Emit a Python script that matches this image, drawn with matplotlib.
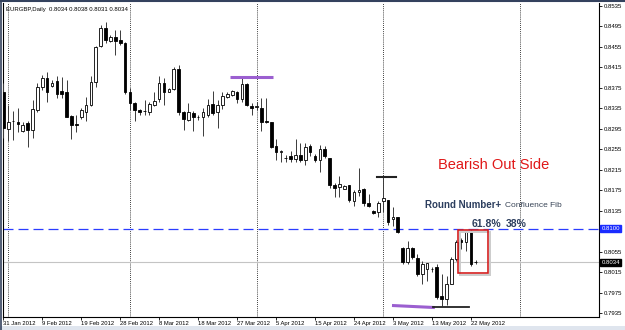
import matplotlib.pyplot as plt
from matplotlib.patches import Rectangle

# EURGBP daily bars, 31 Jan 2012 .. 23 May 2012
opens = [0.8366, 0.8295, 0.8311, 0.8309, 0.8291, 0.8307, 0.8293, 0.8332, 0.8377, 0.8395,
         0.8379, 0.8389, 0.8368, 0.8366, 0.8321, 0.8305, 0.8319, 0.8328, 0.8342, 0.8387,
         0.8457, 0.8492, 0.8467, 0.8475, 0.8469, 0.8463, 0.8366, 0.8346, 0.8332, 0.8329,
         0.8327, 0.8342, 0.8354, 0.8385, 0.8366, 0.8373, 0.8412, 0.8327, 0.8313, 0.8325,
         0.8319, 0.8319, 0.8323, 0.8344, 0.8327, 0.8342, 0.8358, 0.8362, 0.8366, 0.8354,
         0.8383, 0.8340, 0.8338, 0.8336, 0.8311, 0.8309, 0.8262, 0.8250, 0.8239, 0.8241,
         0.8237, 0.8243, 0.8235, 0.8262, 0.8241, 0.8235, 0.8256, 0.8239, 0.8186, 0.8182,
         0.8178, 0.8186, 0.8155, 0.8171, 0.8177, 0.8151, 0.8134, 0.8132, 0.8155, 0.8157,
         0.8118, 0.8122, 0.8062, 0.8035, 0.8062, 0.8042, 0.8011, 0.8021, 0.8021, 0.8025,
         0.7968, 0.7962, 0.7992, 0.8041, 0.8077, 0.8074, 0.8093, 0.8034]
highs = [0.8385, 0.8342, 0.8329, 0.8336, 0.8309, 0.8311, 0.8352, 0.8385, 0.8401, 0.8406,
         0.8391, 0.8399, 0.8397, 0.8391, 0.8323, 0.8323, 0.8336, 0.8358, 0.8399, 0.8457,
         0.8498, 0.8504, 0.8479, 0.8488, 0.8488, 0.8465, 0.8375, 0.8348, 0.8334, 0.8352,
         0.8348, 0.8366, 0.8399, 0.8395, 0.8375, 0.8416, 0.8420, 0.8329, 0.8346, 0.8329,
         0.8323, 0.8336, 0.8354, 0.8368, 0.8352, 0.8366, 0.8366, 0.8371, 0.8368, 0.8395,
         0.8385, 0.8346, 0.8348, 0.8356, 0.8356, 0.8309, 0.8276, 0.8254, 0.8243, 0.8252,
         0.8276, 0.8268, 0.8268, 0.8266, 0.8245, 0.8264, 0.8262, 0.8239, 0.8190, 0.8202,
         0.8186, 0.8186, 0.8175, 0.8219, 0.8180, 0.8167, 0.8136, 0.8155, 0.8200, 0.8157,
         0.8142, 0.8122, 0.8064, 0.8076, 0.8064, 0.8050, 0.8037, 0.8031, 0.8025, 0.8031,
         0.8011, 0.8007, 0.8044, 0.8077, 0.8081, 0.8095, 0.8097, 0.8038]
lows = [0.8278, 0.8272, 0.8274, 0.8288, 0.8288, 0.8260, 0.8278, 0.8327, 0.8371, 0.8348,
        0.8377, 0.8356, 0.8356, 0.8318, 0.8276, 0.8288, 0.8315, 0.8311, 0.8340, 0.8377,
        0.8455, 0.8463, 0.8465, 0.8440, 0.8459, 0.8364, 0.8332, 0.8311, 0.8323, 0.8323,
        0.8323, 0.8340, 0.8348, 0.8342, 0.8366, 0.8371, 0.8323, 0.8293, 0.8311, 0.8291,
        0.8313, 0.8282, 0.8319, 0.8323, 0.8297, 0.8334, 0.8356, 0.8360, 0.8346, 0.8348,
        0.8340, 0.8323, 0.8332, 0.8291, 0.8307, 0.8258, 0.8235, 0.8231, 0.8231, 0.8231,
        0.8231, 0.8231, 0.8225, 0.8241, 0.8231, 0.8210, 0.8239, 0.8180, 0.8161, 0.8161,
        0.8177, 0.8153, 0.8144, 0.8163, 0.8144, 0.8142, 0.8128, 0.8122, 0.8132, 0.8108,
        0.8105, 0.8091, 0.8031, 0.8031, 0.8040, 0.8007, 0.7992, 0.7997, 0.8015, 0.7962,
        0.7949, 0.7951, 0.7992, 0.8037, 0.8060, 0.8056, 0.8027, 0.8031]
closes = [0.8297, 0.8309, 0.8310, 0.8305, 0.8303, 0.8293, 0.8334, 0.8377, 0.8395, 0.8367,
          0.8385, 0.8364, 0.8364, 0.8319, 0.8303, 0.8303, 0.8332, 0.8342, 0.8387, 0.8455,
          0.8492, 0.8469, 0.8475, 0.8467, 0.8463, 0.8366, 0.8346, 0.8332, 0.8327, 0.8330,
          0.8344, 0.8350, 0.8385, 0.8366, 0.8373, 0.8412, 0.8327, 0.8315, 0.8327, 0.8319,
          0.8318, 0.8327, 0.8342, 0.8325, 0.8342, 0.8360, 0.8364, 0.8368, 0.8354, 0.8383,
          0.8342, 0.8336, 0.8339, 0.8309, 0.8309, 0.8260, 0.8250, 0.8251, 0.8239, 0.8237,
          0.8243, 0.8235, 0.8260, 0.8249, 0.8235, 0.8256, 0.8241, 0.8186, 0.8180, 0.8188,
          0.8184, 0.8157, 0.8171, 0.8175, 0.8151, 0.8144, 0.8130, 0.8151, 0.8159, 0.8114,
          0.8122, 0.8093, 0.8035, 0.8062, 0.8044, 0.8011, 0.8031, 0.8033, 0.8021, 0.7966,
          0.7962, 0.7992, 0.8041, 0.8074, 0.8074, 0.8093, 0.8031, 0.8034]

date_labels = ["31 Jan 2012", "9 Feb 2012", "19 Feb 2012", "28 Feb 2012", "8 Mar 2012",
               "18 Mar 2012", "27 Mar 2012", "5 Apr 2012", "15 Apr 2012", "24 Apr 2012",
               "3 May 2012", "13 May 2012", "22 May 2012"]
date_idx = [0, 8, 16, 24, 32, 40, 48, 56, 64, 72, 80, 88, 96]
price_ticks = [0.8535, 0.8495, 0.8455, 0.8415, 0.8375, 0.8335, 0.8295, 0.8255, 0.8215,
               0.8175, 0.8135, 0.8055, 0.8015, 0.7975, 0.7935]
month_sep_idx = [1, 26, 52, 78, 106]
round_number = 0.8100
bid = 0.8034

plt.rcParams['font.family'] = 'Liberation Sans'

n = len(opens)
idx = list(range(n))

fig = plt.figure(figsize=(6.25, 3.3), dpi=100)
fig.patch.set_facecolor('white')
# light strip under the date scale
fig.add_artist(Rectangle((0, 0), 1, 4 / 330, transform=fig.transFigure,
                         facecolor='#dfe5ee', edgecolor='none'))

ax = fig.add_axes([3 / 625, 13.5 / 330, 596 / 625, 313.5 / 330])
ax.set_xlim(-0.06, 122.3)
ax.set_ylim(0.79285, 0.85408)

# month separators
for m in month_sep_idx:
    ax.axvline(m, color='black', lw=0.6, ls=(0, (1, 1.5)), zorder=1)

# round number and bid lines
ax.axhline(round_number, color='#2a3cff', lw=0.9, ls=(0, (8, 4)), zorder=2)
ax.axhline(bid, color='#c4c4c4', lw=0.8, zorder=1)

# candles
ax.vlines(idx, lows, highs, color='#3a3a3a', lw=0.7, zorder=3)
bottoms = [min(o, c) for o, c in zip(opens, closes)]
heights = [abs(c - o) for o, c in zip(opens, closes)]
colors = ['white' if c >= o else 'black' for o, c in zip(opens, closes)]
ax.bar(idx, heights, bottom=bottoms, width=0.55, color=colors,
       edgecolor='black', linewidth=0.6, zorder=4)

# drawn lines
ax.plot([46.6, 55.4], [0.8397, 0.8397], color='#9b5fd0', lw=2.2, solid_capstyle='butt', zorder=5)
ax.plot([79.8, 88.6], [0.7950, 0.7946], color='#9b5fd0', lw=2.2, solid_capstyle='butt', zorder=5)
ax.plot([88.2, 95.6], [0.7948, 0.7948], color='#222222', lw=1.3, zorder=5)
ax.plot([76.7, 80.6], [0.8200, 0.8200], color='#222222', lw=1.5, zorder=5)

# red box with shadow
ax.add_patch(Rectangle((93.8, 0.8009), 6.1, 0.0084, facecolor='none',
                       edgecolor='#cccccc', lw=1.4, zorder=5))
ax.add_patch(Rectangle((93.4, 0.8013), 6.1, 0.0084, facecolor='none',
                       edgecolor='#d42020', lw=1.2, zorder=6))

# annotations
navy = '#2c3e5e'
ax.text(89.3, 0.8225, 'Bearish Out Side', color='#e01818', fontsize=10.5,
        va='center', ha='left')
ax.text(86.6, 0.8146, 'Round Number+', color=navy, fontsize=7, weight='bold',
        va='center', ha='left')
ax.text(103.0, 0.8145, 'Confluence Fib', color='#3a4658', fontsize=6,
        va='center', ha='left')
ax.text(96.2, 0.8110, '61.8%', color=navy, fontsize=7.5, weight='bold', va='center', ha='left')
ax.text(103.2, 0.8110, '38%', color=navy, fontsize=7.5, weight='bold', va='center', ha='left')
ax.text(0.005, 0.988, 'EURGBP,Daily  0.8034 0.8038 0.8031 0.8034', transform=ax.transAxes,
        fontsize=4.3, va='top', ha='left', color='black')

# axes styling
ax.yaxis.tick_right()
ax.set_yticks(price_ticks)
ax.set_yticklabels([f'{p:.4f}' for p in price_ticks])
ax.tick_params(axis='y', length=2, width=0.6, labelsize=4.3, pad=1.5, colors='black')
ax.set_xticks(date_idx)
ax.set_xticklabels(date_labels)
ax.tick_params(axis='x', length=2, width=0.6, labelsize=4.2, pad=1)
for lab in ax.get_xticklabels():
    lab.set_horizontalalignment('left')
ax.spines['top'].set_visible(False)
for s in ['left', 'right', 'bottom']:
    ax.spines[s].set_linewidth(0.8)

# price markers on the scale
ax.text(1.004, round_number, f'{round_number:.4f}', transform=ax.get_yaxis_transform(),
        fontsize=4.3, color='white', va='center', ha='left',
        bbox=dict(boxstyle='square,pad=0.15', fc='#1a2cff', ec='#1a2cff'))
ax.text(1.004, bid, f'{bid:.4f}', transform=ax.get_yaxis_transform(),
        fontsize=4.3, color='white', va='center', ha='left',
        bbox=dict(boxstyle='square,pad=0.15', fc='black', ec='black'))

# window border
fig.add_artist(plt.Line2D([0, 1], [0.997, 0.997], color='#34425e', lw=1.5, transform=fig.transFigure))
fig.add_artist(plt.Line2D([0.001, 0.001], [0, 1], color='#34425e', lw=1.2, transform=fig.transFigure))

fig.savefig('out.png', dpi=100, facecolor='white')
